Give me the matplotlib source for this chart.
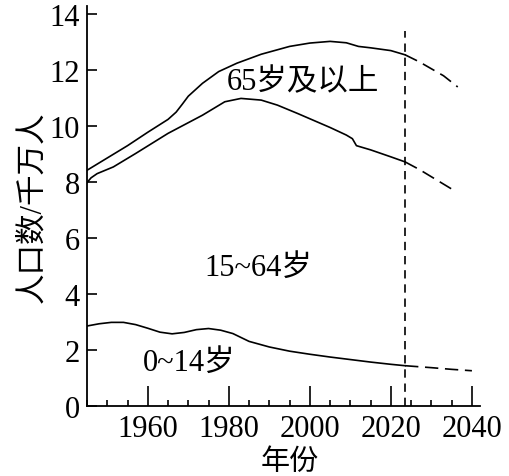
import matplotlib
matplotlib.use("Agg")
import matplotlib.pyplot as plt
from matplotlib.ticker import MultipleLocator

plt.rcParams['font.family'] = ['Liberation Serif', 'Noto Sans CJK SC']

# 总人口 (0~14 + 15~64 + 65岁及以上)
years_total = [1945, 1950, 1955, 1960, 1965, 1967, 1968.5, 1970, 1973.5, 1977.5, 1982,
               1988, 1995, 2000, 2005, 2009, 2012, 2015, 2020, 2023.5]
total = [8.42, 8.86, 9.3, 9.78, 10.24, 10.5, 10.78, 11.07, 11.53, 11.95, 12.25,
         12.57, 12.85, 12.97, 13.03, 12.98, 12.85, 12.8, 12.7, 12.55]
years_total_proj = [2023.5, 2027, 2030, 2033, 2036.5]
total_proj = [12.55, 12.3, 12.05, 11.8, 11.4]

# 0~64岁 (上界 of 15~64)
years_mid = [1945, 1946, 1947.5, 1951.5, 1957, 1965, 1973.5, 1979, 1983, 1988,
             1992, 1997, 2001, 2005, 2009, 2010.5, 2011.5, 2015, 2020, 2023.5]
mid = [7.98, 8.15, 8.3, 8.54, 9.02, 9.74, 10.39, 10.87, 10.99, 10.93,
       10.75, 10.45, 10.2, 9.95, 9.68, 9.55, 9.3, 9.15, 8.9, 8.72]
years_mid_proj = [2023.5, 2027, 2031, 2035]
mid_proj = [8.72, 8.45, 8.1, 7.75]

# 0~14岁
years_young = [1945, 1948, 1951, 1954, 1957, 1960, 1963, 1966, 1969, 1972, 1975, 1978,
               1981, 1985, 1990, 1995, 2000, 2005, 2010, 2015, 2020, 2023.5]
young = [2.85, 2.93, 2.98, 2.98, 2.9, 2.77, 2.63, 2.57, 2.62, 2.72, 2.76, 2.7,
         2.58, 2.3, 2.1, 1.95, 1.84, 1.74, 1.65, 1.56, 1.48, 1.43]
years_young_proj = [2023.5, 2030, 2035, 2040]
young_proj = [1.43, 1.36, 1.3, 1.25]

divider_year = 2023.5

fig = plt.figure(figsize=(5.1, 4.77), dpi=100)
ax = fig.add_axes([0.1706, 0.1474, 0.7706, 0.8376])

lw = 1.2
ax.plot(years_total, total, color='black', lw=lw)
ax.plot(years_mid, mid, color='black', lw=lw)
ax.plot(years_young, young, color='black', lw=lw)
ax.plot(years_total_proj, total_proj, color='black', lw=lw, linestyle=(0, (8, 4)))
ax.plot(years_mid_proj, mid_proj, color='black', lw=lw, linestyle=(0, (8, 4)))
ax.plot(years_young_proj, young_proj, color='black', lw=lw, linestyle=(0, (8, 4)))
ax.plot([divider_year, divider_year], [0, 13.4], color='black', lw=lw,
        linestyle=(0, (5, 3.5)))

ax.set_xlim(1945, 2042)
ax.set_ylim(0, 14.29)
ax.spines['top'].set_visible(False)
ax.spines['right'].set_visible(False)
for s in ('left', 'bottom'):
    ax.spines[s].set_linewidth(1.3)

ax.set_xticks([1960, 1980, 2000, 2020, 2040])
ax.xaxis.set_minor_locator(MultipleLocator(5))
ax.set_yticks(range(0, 15, 2))
ax.tick_params(axis='x', which='major', direction='in', length=14.4, width=1.2,
               labelsize=22, pad=6)
ax.tick_params(axis='x', which='minor', direction='in', length=4.5, width=1.2)
ax.tick_params(axis='y', which='major', direction='in', length=7.5, width=1.2,
               labelsize=22, pad=5)

ax.text(1998.4, 11.6, '65岁及以上', fontsize=22, ha='center', va='center')
ax.text(1987.2, 4.95, '15~64岁', fontsize=22, ha='center', va='center')
ax.text(1970.2, 1.55, '0~14岁', fontsize=22, ha='center', va='center')

ax.set_xlabel('年份', fontsize=21, va='center')
ax.xaxis.set_label_coords(0.517, -0.14)
ax.set_ylabel('人口数/千万人', fontsize=22, labelpad=2)

fig.savefig('out.png', dpi=100)
